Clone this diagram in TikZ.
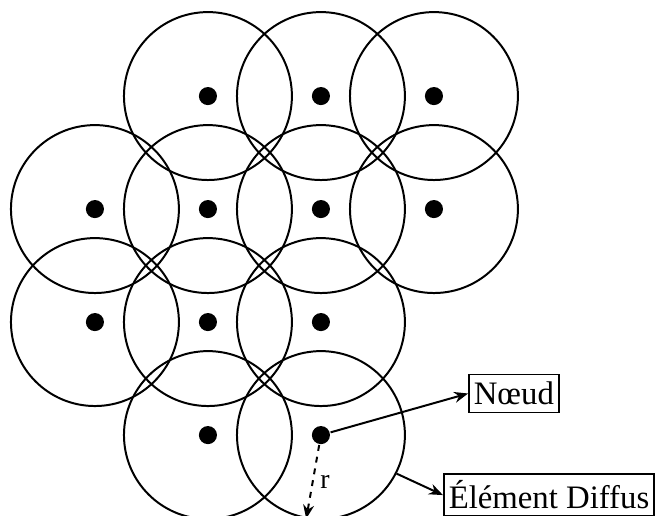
\documentclass[tikz,border=0pt]{standalone}
\usepackage{fontspec}
\setmainfont{Liberation Serif}
\usetikzlibrary{arrows.meta}

\begin{document}
\begin{tikzpicture}[x=2cm, y=2cm, line width=1pt,
  every node/.style={font=\fontsize{16.5}{20}\selectfont},
  element/.style={circle, draw, minimum size=2.972cm, inner sep=0pt},
  noeud/.style={circle, fill, minimum size=.32cm, inner sep=0pt},
  legende/.style={draw, inner xsep=2.5pt, minimum height=19pt, line width=.8pt}]
\useasboundingbox (-0.84,0.85) rectangle (4.965,-3.716);
% diffuse elements, row by row
\node[element] (c01) at (1,0) {};
\node[element] (c02) at (2,0) {};
\node[element] (c03) at (3,0) {};
\node[element] (c10) at (0,-1) {};
\node[element] (c11) at (1,-1) {};
\node[element] (c12) at (2,-1) {};
\node[element] (c13) at (3,-1) {};
\node[element] (c20) at (0,-2) {};
\node[element] (c21) at (1,-2) {};
\node[element] (c22) at (2,-2) {};
\node[element] (c31) at (1,-3) {};
\node[element] (c32) at (2,-3) {};
% nodes at the centres
\node[noeud] (d01) at (1,0) {};
\node[noeud] (d02) at (2,0) {};
\node[noeud] (d03) at (3,0) {};
\node[noeud] (d10) at (0,-1) {};
\node[noeud] (d11) at (1,-1) {};
\node[noeud] (d12) at (2,-1) {};
\node[noeud] (d13) at (3,-1) {};
\node[noeud] (d20) at (0,-2) {};
\node[noeud] (d21) at (1,-2) {};
\node[noeud] (d22) at (2,-2) {};
\node[noeud] (d31) at (1,-3) {};
\node[noeud] (d32) at (2,-3) {};
% legend
\node[legende, anchor=west] (nd) at (3.302,-2.632) {Nœud};
\node[legende, anchor=west, minimum height=20pt] (ed) at (3.080,-3.531) {Élément Diffus};
\draw[-{Stealth[length=7pt,width=5.5pt]}] (d32) -- (nd.west);
\draw[-{Stealth[length=7pt,width=5.5pt]}] (c32.-27) -- (ed.west);
% radius
\draw[dashed, -{Stealth[length=7pt,width=5.5pt]}] (d32) -- node[right, font=\fontsize{14}{16}\selectfont] {r} (c32.-100);
\end{tikzpicture}
\end{document}
